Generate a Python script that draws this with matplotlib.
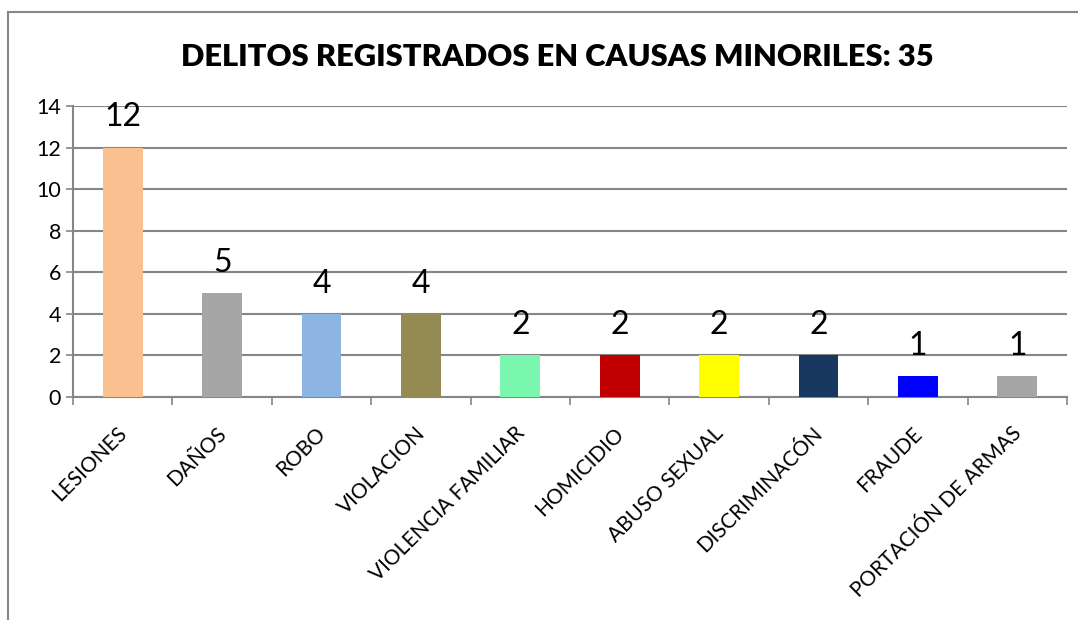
import matplotlib
matplotlib.use('Agg')
import matplotlib.pyplot as plt
import matplotlib.transforms as mtransforms
from matplotlib.lines import Line2D

# data
categorias = ['LESIONES', 'DAÑOS', 'ROBO', 'VIOLACION', 'VIOLENCIA FAMILIAR',
              'HOMICIDIO', 'ABUSO SEXUAL', 'DISCRIMINACÓN', 'FRAUDE',
              'PORTACIÓN DE ARMAS']
valores = [12, 5, 4, 4, 2, 2, 2, 2, 1, 1]
colores = ['#FAC090', '#A6A6A6', '#8EB4E3', '#948A54', '#79F7AE',
           '#C00000', '#FFFF00', '#17375E', '#0000FF', '#A6A6A6']
titulo = 'DELITOS REGISTRADOS EN CAUSAS MINORILES: 35'

plt.rcParams['font.family'] = ['Lato', 'DejaVu Sans']

fig = plt.figure(figsize=(10.78, 6.2), dpi=100)
ax = fig.add_axes([73 / 1078, 1 - 397 / 620, (1067 - 73) / 1078, (397 - 106) / 620])

x = list(range(len(categorias)))
ax.bar(x, valores, width=0.4, color=colores, zorder=3)

for xi, v in zip(x, valores):
    ax.annotate(str(v), (xi, v), xytext=(0, 11), textcoords='offset points',
                ha='center', va='bottom', fontsize=23)

ax.set_xlim(-0.5, len(categorias) - 0.5)
ax.set_ylim(0, 14)
ax.set_yticks(range(0, 15, 2))
ax.tick_params(axis='y', labelsize=15.5, length=5, color='#868686', width=1.2)
ax.yaxis.grid(True, color='#868686', linewidth=1.5, zorder=0)
ax.set_axisbelow(True)

# category ticks at boundaries, labels at centers
ax.set_xticks([i - 0.5 for i in range(len(categorias) + 1)])
ax.set_xticklabels([])
ax.set_xticks(x, minor=True)
ax.set_xticklabels(categorias, minor=True, rotation=45, ha='right',
                   rotation_mode='anchor', fontsize=15)
ax.tick_params(axis='x', which='major', length=6, color='#868686', width=1.2)
ax.tick_params(axis='x', which='minor', length=0, pad=19)
shift = mtransforms.ScaledTranslation(-6 / 100, 0, fig.dpi_scale_trans)
for lbl in ax.get_xticklabels(minor=True):
    lbl.set_transform(lbl.get_transform() + shift)

for s in ['top', 'right']:
    ax.spines[s].set_visible(False)
for s in ['left', 'bottom']:
    ax.spines[s].set_color('#868686')
    ax.spines[s].set_linewidth(1.5)

fig.text(557 / 1078, 1 - 57 / 620, titulo, ha='center', va='center',
         fontsize=22.2, fontweight='heavy')

# chart-area border (top and left edges visible)
fig.add_artist(Line2D([8 / 1078, 1], [1 - 12 / 620, 1 - 12 / 620],
                      transform=fig.transFigure, color='#868686', linewidth=1.5))
fig.add_artist(Line2D([8 / 1078, 8 / 1078], [0, 1 - 12 / 620],
                      transform=fig.transFigure, color='#868686', linewidth=1.5))

fig.savefig('out.png', dpi=100)
